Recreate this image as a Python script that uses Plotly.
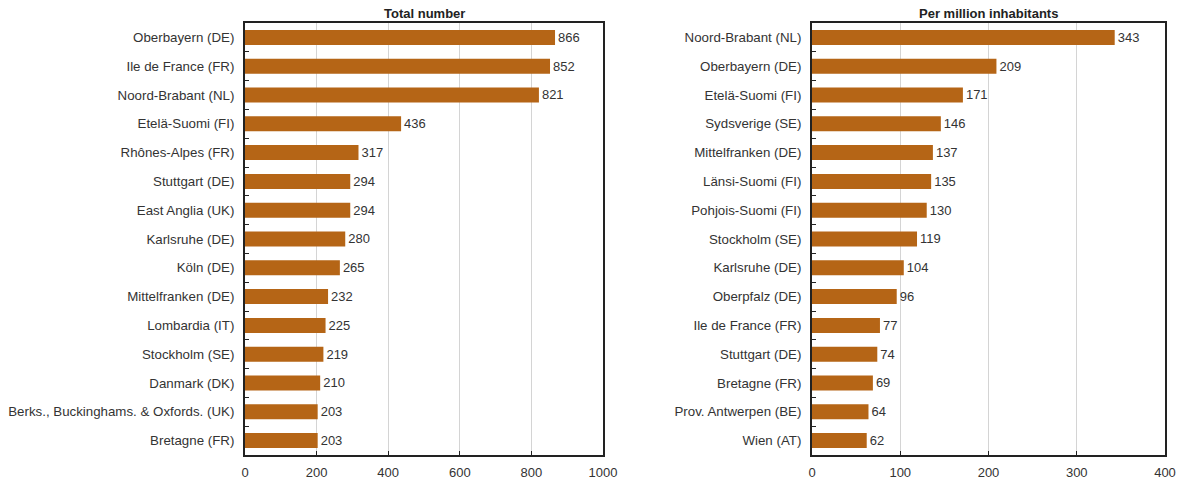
import plotly.graph_objects as go

left_regions = ["Oberbayern (DE)", "Ile de France (FR)", "Noord-Brabant (NL)", "Etelä-Suomi (FI)",
                "Rhônes-Alpes (FR)", "Stuttgart (DE)", "East Anglia (UK)", "Karlsruhe (DE)",
                "Köln (DE)", "Mittelfranken (DE)", "Lombardia (IT)", "Stockholm (SE)",
                "Danmark (DK)", "Berks., Buckinghams. & Oxfords. (UK)", "Bretagne (FR)"]
left_values = [866, 852, 821, 436, 317, 294, 294, 280, 265, 232, 225, 219, 210, 203, 203]

right_regions = ["Noord-Brabant (NL)", "Oberbayern (DE)", "Etelä-Suomi (FI)", "Sydsverige (SE)",
                 "Mittelfranken (DE)", "Länsi-Suomi (FI)", "Pohjois-Suomi (FI)", "Stockholm (SE)",
                 "Karlsruhe (DE)", "Oberpfalz (DE)", "Ile de France (FR)", "Stuttgart (DE)",
                 "Bretagne (FR)", "Prov. Antwerpen (BE)", "Wien (AT)"]
right_values = [343, 209, 171, 146, 137, 135, 130, 119, 104, 96, 77, 74, 69, 64, 62]

left_title = "Total number"
right_title = "Per million inhabitants"

BAR = "#B56516"
FONT = "Liberation Sans, Arial, sans-serif"
TXT = "#333333"

fig = go.Figure()
fig.add_trace(go.Bar(x=left_values, y=left_regions, orientation="h", marker_color=BAR,
                     marker_line_width=0,
                     text=left_values, textposition="outside", cliponaxis=False,
                     textfont=dict(size=13, color=TXT), xaxis="x", yaxis="y"))
fig.add_trace(go.Bar(x=right_values, y=right_regions, orientation="h", marker_color=BAR,
                     marker_line_width=0,
                     text=right_values, textposition="outside", cliponaxis=False,
                     textfont=dict(size=13, color=TXT), xaxis="x2", yaxis="y2"))

xcommon = dict(showgrid=True, gridcolor="#d4d4d4", gridwidth=1, showline=True, linecolor="#222",
               linewidth=2, mirror=True, ticks="inside", ticklen=4, tickcolor="#222",
               tickfont=dict(size=13, color=TXT), zeroline=False, fixedrange=True,
               automargin=False, ticklabelstandoff=4)
ycommon = dict(showgrid=False, showline=True, linecolor="#222", linewidth=2, mirror=True,
               ticks="inside", ticklen=4, tickcolor="#222", tickson="boundaries",
               tickfont=dict(size=13.3, color=TXT), autorange="reversed", fixedrange=True,
               automargin=False, ticklabelstandoff=6)

fig.update_layout(
    width=1178, height=480,
    margin=dict(l=0, r=0, t=23, b=25),
    paper_bgcolor="white", plot_bgcolor="white",
    font=dict(family=FONT, color=TXT),
    showlegend=False, bargap=0.48,
    xaxis=dict(domain=[245/1178, 603/1178], range=[0, 1000], dtick=200, anchor="y", **xcommon),
    yaxis=dict(domain=[0, 1], anchor="x", categoryorder="array", categoryarray=left_regions, **ycommon),
    xaxis2=dict(domain=[812/1178, 1165/1178], range=[0, 400], dtick=100, anchor="y2", **xcommon),
    yaxis2=dict(domain=[0, 1], anchor="x2", categoryorder="array", categoryarray=right_regions, **ycommon),
    annotations=[
        dict(text="<b>" + left_title + "</b>", x=(245+603)/2/1178, y=1, xref="paper", yref="paper",
             xanchor="center", yanchor="bottom", showarrow=False, font=dict(size=13, color="#222"), yshift=0),
        dict(text="<b>" + right_title + "</b>", x=(812+1165)/2/1178, y=1, xref="paper", yref="paper",
             xanchor="center", yanchor="bottom", showarrow=False, font=dict(size=13, color="#222"), yshift=0),
    ],
)

fig.write_html("out.html", config={"displayModeBar": False},
               post_script="document.body.style.margin='0px';document.body.style.overflow='hidden';")
